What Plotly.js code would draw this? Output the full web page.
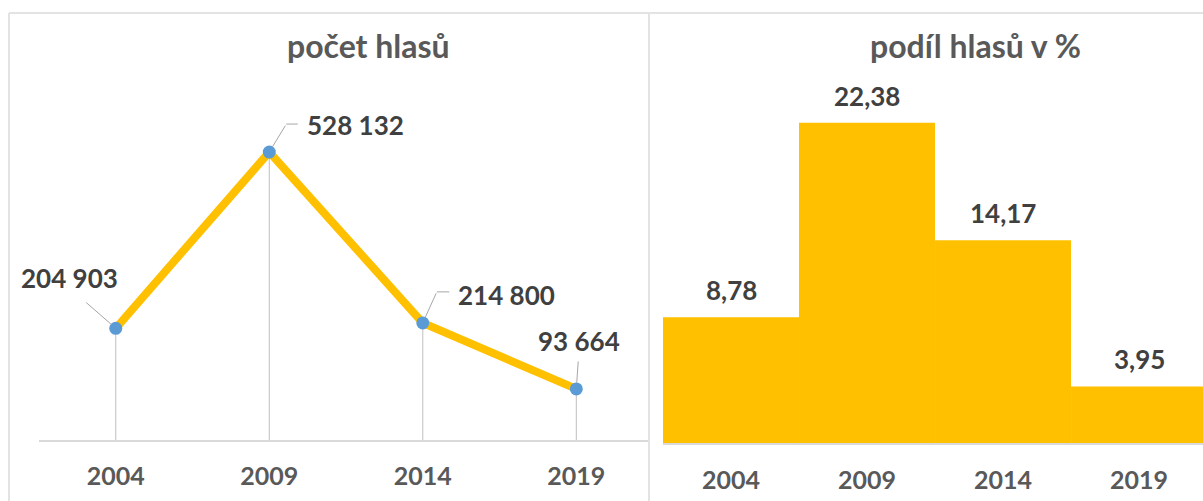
<!DOCTYPE html>
<html>
<head>
<meta charset="utf-8">
<script src="https://cdn.plot.ly/plotly-3.0.1.min.js"></script>
<style>html,body{margin:0;padding:0;background:#fff;}#chart{width:1203px;height:501px;}</style>
</head>
<body>
<div id="chart"></div>
<script>
// ---- data ----
const years = ['2004', '2009', '2014', '2019'];
const votes = [204903, 528132, 214800, 93664];
const voteLabels = ['204 903', '528 132', '214 800', '93 664'];
const shares = [8.78, 22.38, 14.17, 3.95];
const shareLabels = ['8,78', '22,38', '14,17', '3,95'];
const titleLeft = 'počet hlasů';
const titleRight = 'podíl hlasů v %';

// ---- styling ----
const W = 1203, H = 501;
const FONT = 'Lato, "Open Sans", sans-serif';
const labelFont = {family: FONT, size: 26, color: '#404040', weight: 700};
const tickFont = {family: FONT, size: 25, color: '#595959', weight: 700};
const titleFont = {family: FONT, size: 32, color: '#595959', weight: 700};
const px = v => v / W;
const py = v => 1 - v / H;

// label offsets (pixels, y up)
const labelOffsets = [[-46, 50], [86, 27], [84, 28], [3, 48]];
// leader lines: bend point (pixels from marker, y up) and horizontal second leg length
const leaderBend = [[-31, 27], [17, 28], [14, 31], [2, 29]];
const leaderTail = [0, 13, 14, 0];

const lineTrace = {
  type: 'scatter', mode: 'lines+markers',
  x: years, y: votes, xaxis: 'x', yaxis: 'y',
  line: {color: '#FFC000', width: 8},
  marker: {color: '#5B9BD5', size: 13},
  error_y: {type: 'data', symmetric: false, array: votes.map(() => 0), arrayminus: votes,
            color: '#BFBFBF', thickness: 1, width: 0},
  hoverinfo: 'skip', cliponaxis: false
};

const barTrace = {
  type: 'bar', x: years, y: shares, xaxis: 'x2', yaxis: 'y2',
  width: 1, marker: {color: '#FFC000', line: {width: 0}},
  hoverinfo: 'skip'
};

// category axes: annotations are positioned by category index
const leaderStyle = {showarrow: true, arrowhead: 0, arrowwidth: 1, arrowcolor: '#A6A6A6', text: ''};
const annotations = [];
years.forEach((yr, i) => {
  annotations.push(Object.assign({
    xref: 'x', yref: 'y', x: i, y: votes[i],
    ax: leaderBend[i][0], ay: -leaderBend[i][1], standoff: 6
  }, leaderStyle));
  if (leaderTail[i] > 0) {
    annotations.push(Object.assign({
      xref: 'x', yref: 'y', x: i, y: votes[i],
      xshift: leaderBend[i][0], yshift: leaderBend[i][1],
      ax: leaderTail[i], ay: 0, standoff: 0
    }, leaderStyle));
  }
  annotations.push({
    xref: 'x', yref: 'y', x: i, y: votes[i], text: voteLabels[i], showarrow: false,
    xshift: labelOffsets[i][0], yshift: labelOffsets[i][1], font: labelFont,
    xanchor: 'center', yanchor: 'middle'
  });
  annotations.push({
    xref: 'x2', yref: 'y2', x: i, y: shares[i], text: shareLabels[i], showarrow: false,
    yshift: 27, font: labelFont, xanchor: 'center', yanchor: 'middle'
  });
});
annotations.push({xref: 'paper', yref: 'paper', x: px(368), y: py(45), text: titleLeft,
  showarrow: false, font: titleFont, xanchor: 'center', yanchor: 'middle'});
annotations.push({xref: 'paper', yref: 'paper', x: px(976), y: py(45), text: titleRight,
  showarrow: false, font: titleFont, xanchor: 'center', yanchor: 'middle'});

const shapes = [];
const borderLine = {color: '#E3E3E3', width: 2};
shapes.push({type: 'line', xref: 'paper', yref: 'paper', x0: px(9), x1: px(9), y0: py(13), y1: 0, line: borderLine});
shapes.push({type: 'line', xref: 'paper', yref: 'paper', x0: px(9), x1: 1, y0: py(13), y1: py(13), line: borderLine});
shapes.push({type: 'line', xref: 'paper', yref: 'paper', x0: px(649), x1: px(649), y0: py(13), y1: 0, line: borderLine});

const hiddenY = {showgrid: false, zeroline: false, showline: false, showticklabels: false, ticks: '', fixedrange: true};

const layout = {
  width: W, height: H,
  margin: {l: 0, r: 0, t: 0, b: 0, pad: 0},
  paper_bgcolor: '#ffffff', plot_bgcolor: 'rgba(0,0,0,0)',
  showlegend: false,
  xaxis: {
    domain: [px(39), px(650)], type: 'category', range: [-0.5, 3.48],
    showline: true, linecolor: '#D9D9D9', linewidth: 2, showgrid: false, zeroline: false,
    ticks: '', tickfont: tickFont, ticklabelstandoff: 13, fixedrange: true
  },
  yaxis: Object.assign({domain: [1 - 440 / H, 1], range: [0, 807000]}, hiddenY),
  xaxis2: {
    domain: [px(663), 1], type: 'category', range: [-0.5, 3.47], anchor: 'y2',
    showline: true, linecolor: '#D9D9D9', linewidth: 2, showgrid: false, zeroline: false,
    ticks: '', tickfont: tickFont, ticklabelstandoff: 14, fixedrange: true
  },
  yaxis2: Object.assign({domain: [1 - 443 / H, 1], range: [0, 30.96], anchor: 'x2'}, hiddenY),
  annotations: annotations,
  shapes: shapes
};

Plotly.newPlot('chart', [barTrace, lineTrace], layout, {staticPlot: true, displayModeBar: false});
</script>
</body>
</html>
